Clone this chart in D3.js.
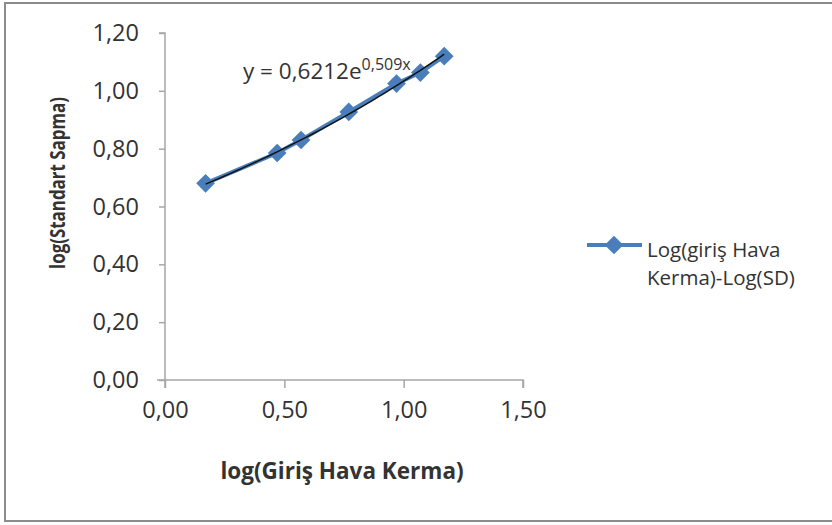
<!DOCTYPE html>
<html>
<head>
<meta charset="utf-8">
<script src="https://cdn.jsdelivr.net/npm/d3@7/dist/d3.min.js"></script>
<style>
  body { margin: 0; background: #fff; }
  svg text { font-family: "Open Sans", sans-serif; fill: #333; }
</style>
</head>
<body>
<svg class="chart"></svg>
<script>
// data
var xValues = [0.17, 0.47, 0.57, 0.77, 0.97, 1.07, 1.17];
var yValues = [0.68, 0.785, 0.83, 0.927, 1.025, 1.063, 1.12];
var xTicks = [0, 0.5, 1.0, 1.5];
var yTicks = [0, 0.2, 0.4, 0.6, 0.8, 1.0, 1.2];
var trendA = 0.6212, trendB = 0.509;
var seriesName = ["Log(giriş Hava", "Kerma)-Log(SD)"];

var svgWidth = 832, svgHeight = 525;
var margin = { top: 33, left: 165 };
var width = 358, height = 347;

var fmt = function(d) { return d3.format(".2f")(d).replace(".", ","); };

var svg = d3.select("svg.chart")
  .attr("width", svgWidth)
  .attr("height", svgHeight);

// outer frame
svg.append("rect")
  .attr("x", 5).attr("y", 3)
  .attr("width", 850).attr("height", 518)
  .attr("fill", "none")
  .attr("stroke", "#8c8c8c")
  .attr("stroke-width", 2);

var g = svg.append("g")
  .attr("transform", "translate(" + margin.left + "," + margin.top + ")");

var x = d3.scaleLinear().domain([0, 1.5]).range([0, width]);
var y = d3.scaleLinear().domain([0, 1.2]).range([height, 0]);

var xAxis = g.append("g")
  .attr("transform", "translate(0," + height + ")")
  .call(d3.axisBottom(x).tickValues(xTicks).tickFormat(fmt).tickSize(8).tickPadding(13));

var yAxis = g.append("g")
  .call(d3.axisLeft(y).tickValues(yTicks).tickFormat(fmt).tickSize(6).tickPadding(20));

[xAxis, yAxis].forEach(function(a) {
  a.select(".domain").attr("stroke", "#a6a6a6").attr("stroke-width", 1.5);
  a.selectAll(".tick line").attr("stroke", "#a6a6a6").attr("stroke-width", 1.5);
  a.selectAll(".tick text")
    .style("font-family", "'Open Sans', sans-serif")
    .style("font-size", "23.5px")
    .attr("fill", "#333");
});
// x axis domain crosses slightly past y axis like Excel
xAxis.select(".domain").attr("d", "M-8,0H" + width + "V8");
yAxis.select(".domain").attr("d", "M-6,0H0V" + (height + 8));

// axis titles
svg.append("text")
  .attr("x", 342)
  .attr("y", 479)
  .attr("text-anchor", "middle")
  .style("font-size", "22.5px")
  .style("font-weight", "bold")
  .text("log(Giriş Hava Kerma)");

svg.append("text")
  .attr("transform", "translate(65,183) rotate(-90)")
  .attr("text-anchor", "middle")
  .attr("textLength", 172)
  .attr("lengthAdjust", "spacingAndGlyphs")
  .style("font-size", "21px")
  .style("font-weight", "bold")
  .text("log(Standart Sapma)");

var points = xValues.map(function(v, i) { return { x: v, y: yValues[i] }; });
var blue = "#4a7ebb";

// series line
g.append("path")
  .datum(points)
  .attr("fill", "none")
  .attr("stroke", blue)
  .attr("stroke-width", 4)
  .attr("d", d3.line().x(function(d) { return x(d.x); }).y(function(d) { return y(d.y); }));

var diamond = d3.symbol().type(d3.symbolSquare).size(175);

g.selectAll(".marker")
  .data(points)
  .enter().append("path")
    .attr("class", "marker")
    .attr("d", diamond)
    .attr("fill", blue)
    .attr("transform", function(d) { return "translate(" + x(d.x) + "," + y(d.y) + ") rotate(45)"; });

// exponential trendline y = a e^(bx)
var trendX = d3.range(0, 41).map(function(i) {
  return xValues[0] + (xValues[xValues.length - 1] - xValues[0]) * i / 40;
});
g.append("path")
  .datum(trendX)
  .attr("fill", "none")
  .attr("stroke", "#111")
  .attr("stroke-width", 1.5)
  .attr("d", d3.line().x(function(d) { return x(d); }).y(function(d) { return y(trendA * Math.exp(trendB * d)); }));

// equation label
var eq = svg.append("text")
  .attr("x", 243)
  .attr("y", 79)
  .style("font-size", "22.5px");
eq.append("tspan").text("y = " + String(trendA).replace(".", ",") + "e");
eq.append("tspan")
  .attr("dy", -9)
  .style("font-size", "16px")
  .text(String(trendB).replace(".", ",") + "x");

// legend
var legend = svg.append("g").attr("transform", "translate(587,245)");
legend.append("line")
  .attr("x1", 0).attr("x2", 55)
  .attr("stroke", blue)
  .attr("stroke-width", 4);
legend.append("path")
  .attr("d", diamond)
  .attr("fill", blue)
  .attr("transform", "translate(27,0) rotate(45)");
legend.selectAll(".ltext")
  .data(seriesName)
  .enter().append("text")
    .attr("class", "ltext")
    .attr("x", 60)
    .attr("y", function(d, i) { return 12 + i * 28; })
    .style("font-size", "20.5px")
    .text(function(d) { return d; });
</script>
</body>
</html>
